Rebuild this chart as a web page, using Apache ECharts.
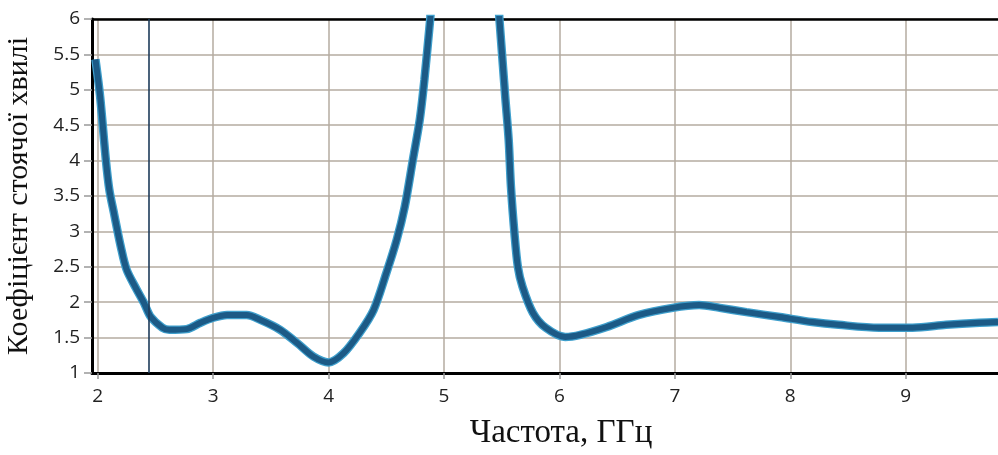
<!DOCTYPE html>
<html>
<head>
<meta charset="utf-8">
<script src="https://cdn.jsdelivr.net/npm/echarts@6/dist/echarts.min.js"></script>
<style>
html,body{margin:0;padding:0;background:#fff;}
#chart{width:998px;height:455px;}
</style>
</head>
<body>
<div id="chart"></div>
<script>
// Frequency (GHz) and VSWR values
const freq = [1.98, 2.02, 2.07, 2.10, 2.14, 2.20, 2.25, 2.33, 2.40, 2.46, 2.56, 2.62, 2.77, 2.89, 3.00, 3.12, 3.29, 3.41, 3.58, 3.73, 3.87, 4.00, 4.13, 4.27, 4.39, 4.50, 4.59, 4.66, 4.73, 4.79, 4.83, 4.88, 4.93,
              5.44, 5.48, 5.53, 5.56, 5.58, 5.61, 5.64, 5.68, 5.77, 5.88, 6.05, 6.18, 6.41, 6.69, 6.98, 7.21, 7.39, 7.62, 7.91, 8.19, 8.42, 8.77, 9.06, 9.35, 9.64, 9.80];
const vswr = [5.43, 4.91, 4.01, 3.59, 3.26, 2.78, 2.46, 2.20, 1.99, 1.79, 1.64, 1.61, 1.62, 1.71, 1.78, 1.82, 1.82, 1.75, 1.61, 1.42, 1.23, 1.15, 1.28, 1.57, 1.89, 2.41, 2.88, 3.35, 4.01, 4.58, 5.14, 5.99, 6.80,
              6.80, 6.00, 4.91, 4.30, 3.63, 2.98, 2.50, 2.22, 1.85, 1.64, 1.51, 1.54, 1.65, 1.82, 1.92, 1.96, 1.92, 1.86, 1.79, 1.72, 1.68, 1.64, 1.64, 1.68, 1.71, 1.72];
const xTicks = [2, 3, 4, 5, 6, 7, 8, 9];
const markerFreq = 2.44;
const xTitle = 'Частота, ГГц';
const yTitle = 'Коефіцієнт стоячої хвилі';

const pts = freq.map((f, i) => [f, vswr[i]]);

const chart = echarts.init(document.getElementById('chart'), null, {renderer: 'canvas'});
chart.setOption({
  animation: false,
  backgroundColor: '#ffffff',
  grid: {left: 92, top: 19, right: 0, bottom: 82, containLabel: false, outerBoundsMode: 'none'},
  xAxis: [{
    type: 'value', min: 1.95, max: 9.8,
    name: xTitle, nameLocation: 'middle', nameGap: 44,
    nameTextStyle: {fontFamily: 'Liberation Serif', fontSize: 33, color: '#111', padding: [0, 0, 0, 32]},
    axisLine: {show: true, onZero: false, lineStyle: {color: '#000', width: 3}},
    axisTick: {show: true, customValues: xTicks, length: 6, lineStyle: {color: '#999', width: 1.5}},
    axisLabel: {customValues: xTicks, margin: 14, fontFamily: 'Open Sans', fontSize: 19, color: '#222'},
    splitLine: {show: true, lineStyle: {color: '#b5aba1', width: 1.5}}
  }, {
    type: 'value', position: 'top', min: 1.95, max: 9.8,
    axisLine: {show: true, onZero: false, lineStyle: {color: '#000', width: 2.5}},
    axisTick: {show: false}, axisLabel: {show: false}, splitLine: {show: false}
  }],
  yAxis: {
    type: 'value', min: 1, max: 6, interval: 0.5,
    name: yTitle, nameLocation: 'middle', nameGap: 58, nameRotate: 90,
    nameTextStyle: {fontFamily: 'Liberation Serif', fontSize: 30, color: '#111'},
    axisLine: {show: true, onZero: false, lineStyle: {color: '#000', width: 3}},
    axisTick: {show: true, length: 8, lineStyle: {color: '#999', width: 1.5}},
    axisLabel: {margin: 12, fontFamily: 'Open Sans', fontSize: 19, color: '#222'},
    splitLine: {show: true, lineStyle: {color: '#b5aba1', width: 1.5}}
  },
  series: [{
    type: 'line', data: pts, smooth: 0.3, showSymbol: false, silent: true,
    lineStyle: {color: '#3f9fcc', width: 8.5},
    markLine: {
      silent: true, symbol: 'none', label: {show: false},
      lineStyle: {color: '#1d3b5a', width: 1.6, type: 'solid'},
      data: [{xAxis: markerFreq}]
    },
    z: 2
  }, {
    type: 'line', data: pts, smooth: 0.3, showSymbol: false, silent: true,
    lineStyle: {color: '#1c5a86', width: 6},
    z: 3
  }]
});
</script>
</body>
</html>
